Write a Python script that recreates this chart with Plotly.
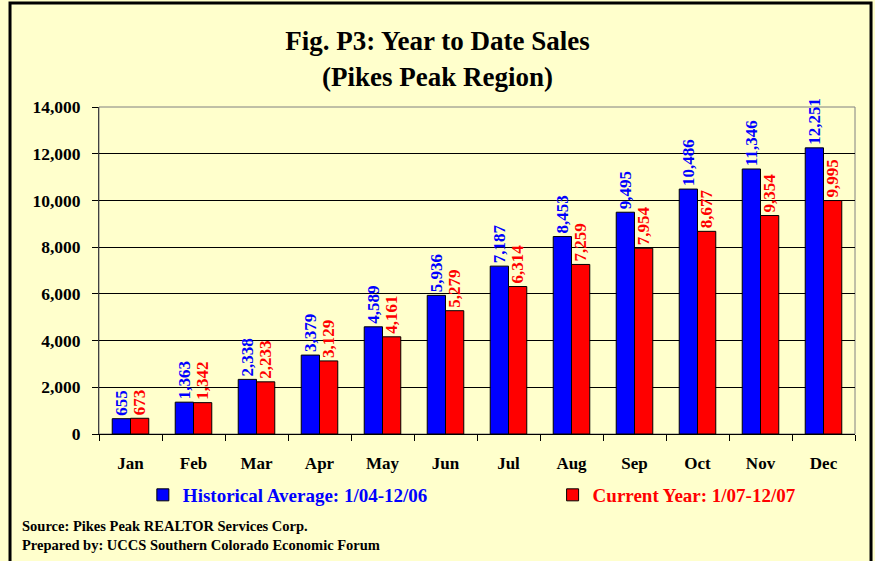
import plotly.graph_objects as go

months = ["Jan", "Feb", "Mar", "Apr", "May", "Jun", "Jul", "Aug", "Sep", "Oct", "Nov", "Dec"]
historical = [655, 1363, 2338, 3379, 4589, 5936, 7187, 8453, 9495, 10486, 11346, 12251]
current = [673, 1342, 2233, 3129, 4161, 5279, 6314, 7259, 7954, 8677, 9354, 9995]
y_ticks = [0, 2000, 4000, 6000, 8000, 10000, 12000, 14000]

SERIF = "Liberation Serif, Times New Roman, serif"
BG = "#FFFFCC"
BLUE = "#0000FF"
RED = "#FF0000"

fig = go.Figure()
fig.add_trace(go.Bar(
    x=months, y=historical, name="Historical Average: 1/04-12/06", legend="legend",
    marker=dict(color=BLUE, line=dict(color="#000000", width=1)),
    text=[f"{v:,}" for v in historical], textposition="outside", textangle=-90,
    constraintext="none",
    textfont=dict(family=SERIF, size=17, color=BLUE, weight="bold"), cliponaxis=False))
fig.add_trace(go.Bar(
    x=months, y=current, name="Current Year: 1/07-12/07", legend="legend2",
    marker=dict(color=RED, line=dict(color="#000000", width=1)),
    text=[f"{v:,}" for v in current], textposition="outside", textangle=-90,
    constraintext="none",
    textfont=dict(family=SERIF, size=17, color=RED, weight="bold"), cliponaxis=False))

# plot area frame and outer chart border
fig.add_shape(type="rect", xref="paper", yref="paper", x0=0, x1=1, y0=0, y1=1,
              line=dict(color="#808080", width=1), layer="below")
fig.add_shape(type="rect", xref="paper", yref="paper", x0=-0.1177, x1=1.0212, y0=-0.42, y1=1.318,
              line=dict(color="#000000", width=3))

legend_style = dict(orientation="h", yanchor="middle", y=-0.1865, xanchor="left",
                    bgcolor="rgba(0,0,0,0)", itemclick=False, itemdoubleclick=False)

fig.update_layout(
    width=875, height=561,
    margin=dict(l=99, r=20, t=107, b=127),
    paper_bgcolor=BG, plot_bgcolor=BG,
    font=dict(family=SERIF, color="#000000"),
    title=dict(text="Fig. P3: Year to Date Sales<br>(Pikes Peak Region)",
               x=0.5, xanchor="center", y=0.91, yanchor="middle",
               font=dict(family=SERIF, size=27, color="#000000", weight="bold")),
    barmode="group", bargap=0.42, bargroupgap=0.0,
    showlegend=True,
    legend=dict(x=0.058, font=dict(family=SERIF, size=19, color=BLUE, weight="bold"), **legend_style),
    legend2=dict(x=0.6, font=dict(family=SERIF, size=19, color=RED, weight="bold"), **legend_style),
    annotations=[
        dict(text="Source: Pikes Peak REALTOR Services Corp.<br>Prepared by: UCCS Southern Colorado Economic Forum",
             xref="paper", yref="paper", x=-0.1045, y=-0.251, xanchor="left", yanchor="top",
             showarrow=False, align="left",
             font=dict(family=SERIF, size=14.5, color="#000000", weight="bold")),
    ],
)
fig.update_xaxes(showgrid=False, showline=True, linecolor="#000000", linewidth=1,
                 ticks="outside", tickson="boundaries", ticklen=6, tickcolor="#000000",
                 tickfont=dict(family=SERIF, size=17, color="#000000", weight="bold"),
                 ticklabelstandoff=14)
fig.update_yaxes(range=[0, 14000], tickvals=y_ticks, tickformat=",",
                 showgrid=True, gridcolor="#000000", gridwidth=1,
                 showline=True, linecolor="#404040", linewidth=1,
                 ticks="outside", ticklen=6, tickcolor="#000000",
                 tickfont=dict(family=SERIF, size=17.5, color="#000000", weight="bold"),
                 ticklabelstandoff=8, zeroline=False)

fig.write_html("out.html", config={"displayModeBar": False},
               post_script="document.body.style.margin='0px';")
